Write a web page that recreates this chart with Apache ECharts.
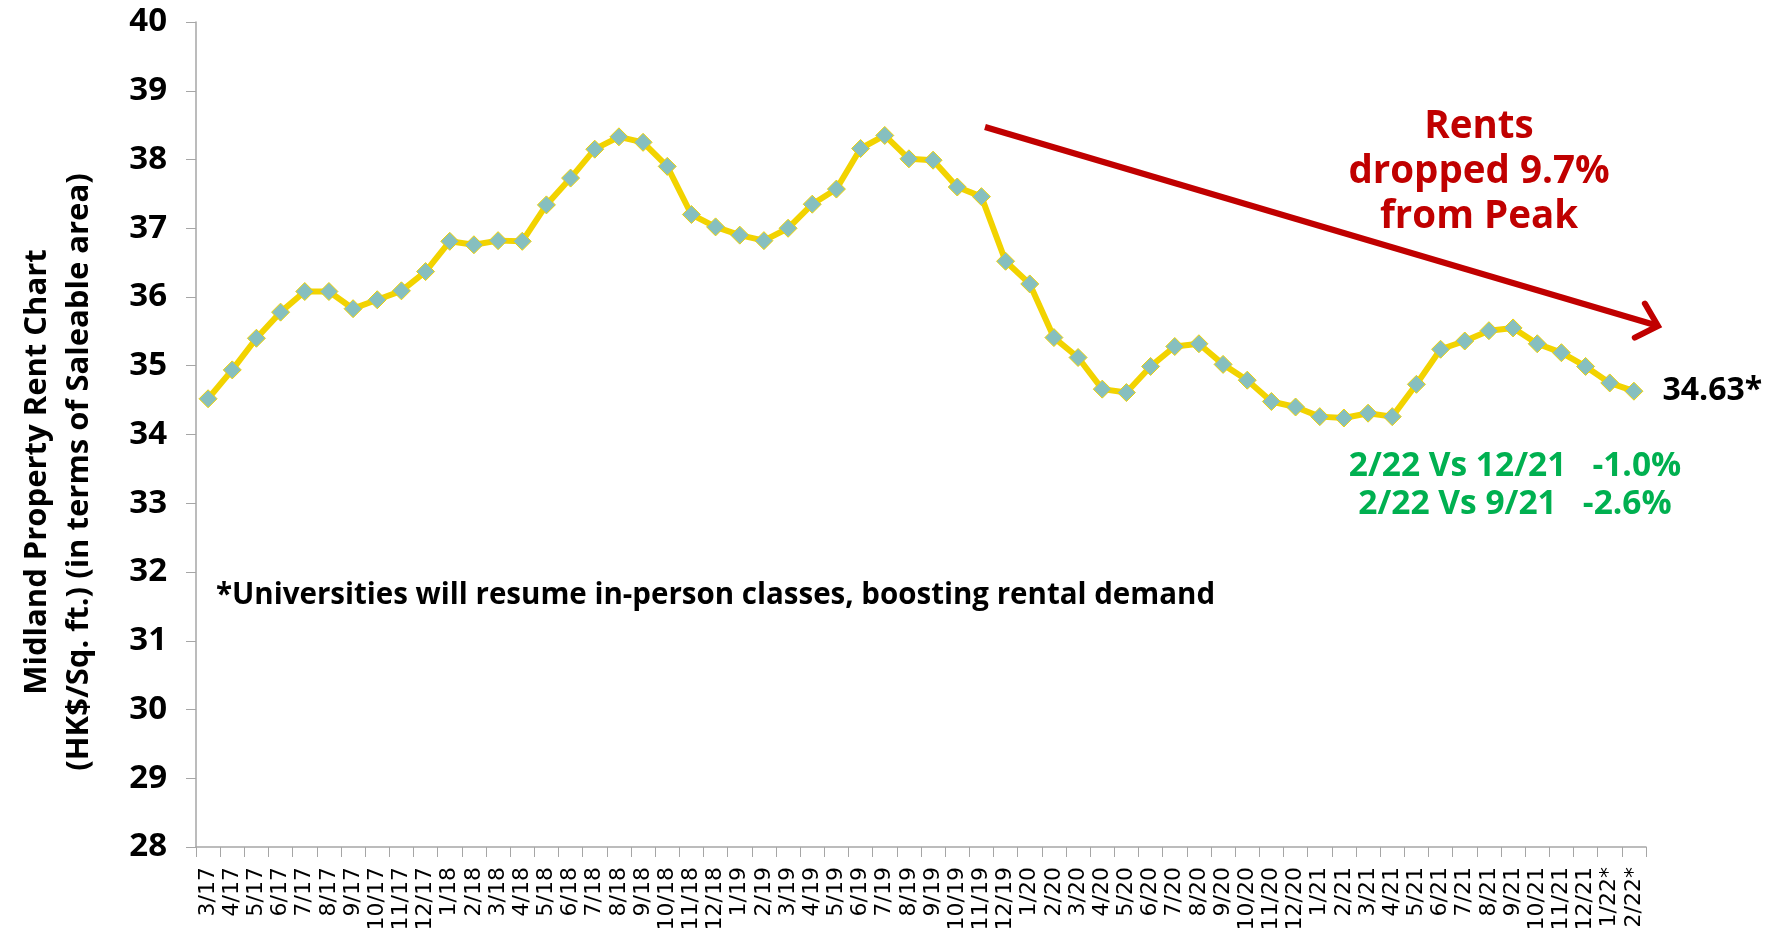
<!DOCTYPE html>
<html>
<head>
<meta charset="utf-8">
<title>Midland Property Rent Chart</title>
<script src="https://cdn.jsdelivr.net/npm/echarts@6/dist/echarts.min.js"></script>
<style>
  html, body { margin: 0; padding: 0; background: #ffffff; }
  #chart { width: 1783px; height: 949px; }
</style>
</head>
<body>
<div id="chart"></div>
<script>
// Month labels, March 2017 to February 2022 (starred months are provisional)
const months = [
  '3/17', '4/17', '5/17', '6/17', '7/17', '8/17', '9/17', '10/17', '11/17', '12/17',
  '1/18', '2/18', '3/18', '4/18', '5/18', '6/18', '7/18', '8/18', '9/18', '10/18', '11/18', '12/18',
  '1/19', '2/19', '3/19', '4/19', '5/19', '6/19', '7/19', '8/19', '9/19', '10/19', '11/19', '12/19',
  '1/20', '2/20', '3/20', '4/20', '5/20', '6/20', '7/20', '8/20', '9/20', '10/20', '11/20', '12/20',
  '1/21', '2/21', '3/21', '4/21', '5/21', '6/21', '7/21', '8/21', '9/21', '10/21', '11/21', '12/21',
  '1/22*', '2/22*'
];

// Average rent, HK$ per sq. ft. of saleable area
const rents = [
  34.52, 34.94, 35.40, 35.78, 36.08, 36.08, 35.83, 35.96, 36.09, 36.37,
  36.81, 36.76, 36.82, 36.81, 37.34, 37.73, 38.15, 38.33, 38.25, 37.90, 37.20, 37.02,
  36.90, 36.82, 37.00, 37.35, 37.57, 38.16, 38.35, 38.01, 37.99, 37.60, 37.46, 36.52,
  36.19, 35.41, 35.12, 34.66, 34.61, 34.99, 35.28, 35.32, 35.02, 34.79, 34.48, 34.40,
  34.26, 34.24, 34.31, 34.26, 34.73, 35.24, 35.36, 35.51, 35.55, 35.32, 35.19, 34.99,
  34.75, 34.63
];

// Value axis ticks
const yTicks = { min: 28, max: 40, step: 1 };

const axisGrey = '#a6a6a6';
const lineYellow = '#f2d300';
const markerTeal = '#86bfbf';
const darkRed = '#c00000';
const green = '#00b050';
const boldFont = '"Open Sans", "Noto Sans", sans-serif';

// Only the latest month carries a value label
const seriesData = rents.map((v, i) => {
  if (i !== rents.length - 1) return v;
  return {
    value: v,
    label: {
      show: true,
      position: 'right',
      distance: 19,
      formatter: p => p.value.toFixed(2) + '*',
      fontFamily: boldFont,
      fontWeight: 'bold',
      fontSize: 32,
      color: '#000'
    }
  };
});

// Downward trend arrow with an open chevron head
const arrowFrom = [985, 127];
const arrowTo = [1658, 326];
function arrowHead(from, to, len, halfAngle) {
  const ang = Math.atan2(to[1] - from[1], to[0] - from[0]);
  const a1 = ang + Math.PI - halfAngle;
  const a2 = ang + Math.PI + halfAngle;
  return [
    [to[0] + len * Math.cos(a1), to[1] + len * Math.sin(a1)],
    [to[0], to[1]],
    [to[0] + len * Math.cos(a2), to[1] + len * Math.sin(a2)]
  ];
}

const chart = echarts.init(document.getElementById('chart'), null, { renderer: 'canvas' });

chart.setOption({
  animation: false,
  backgroundColor: '#ffffff',
  grid: { left: 196, right: 137, top: 22, bottom: 102, outerBoundsMode: 'none' },
  xAxis: {
    type: 'category',
    data: months,
    boundaryGap: true,
    axisLine: { show: true, lineStyle: { color: axisGrey, width: 1.5 } },
    axisTick: { show: true, interval: 0, length: 10, lineStyle: { color: axisGrey, width: 1 } },
    axisLabel: {
      interval: 0,
      rotate: 90,
      margin: 20,
      fontSize: 22,
      fontFamily: '"DejaVu Sans", sans-serif',
      color: '#000'
    },
    splitLine: { show: false }
  },
  yAxis: {
    type: 'value',
    min: yTicks.min,
    max: yTicks.max,
    interval: yTicks.step,
    axisLine: { show: true, lineStyle: { color: axisGrey, width: 1.5 } },
    axisTick: { show: true, length: 10, lineStyle: { color: axisGrey, width: 1 } },
    axisLabel: {
      margin: 29,
      fontSize: 33,
      fontWeight: 'bold',
      fontFamily: boldFont,
      color: '#000'
    },
    splitLine: { show: false }
  },
  series: [{
    type: 'line',
    data: seriesData,
    symbol: 'diamond',
    symbolSize: 18,
    showAllSymbol: true,
    lineStyle: { color: lineYellow, width: 6 },
    itemStyle: { color: markerTeal, borderColor: lineYellow, borderWidth: 1 },
    z: 3
  }],
  graphic: [
    {
      type: 'text',
      x: 58, y: 472,
      rotation: Math.PI / 2,
      style: {
        text: 'Midland Property Rent Chart\n(HK$/Sq. ft.) (in terms of Saleable area)',
        fontFamily: boldFont,
        fontWeight: 'bold',
        fontSize: 31,
        lineHeight: 42,
        fill: '#000',
        align: 'center',
        verticalAlign: 'middle'
      }
    },
    {
      type: 'text',
      x: 216, y: 596,
      style: {
        text: '*Universities will resume in-person classes, boosting rental demand',
        fontFamily: boldFont,
        fontWeight: 'bold',
        fontSize: 29.5,
        fill: '#000',
        align: 'left',
        verticalAlign: 'middle'
      }
    },
    {
      type: 'text',
      x: 1479, y: 172,
      style: {
        text: 'Rents\ndropped 9.7%\nfrom Peak',
        fontFamily: boldFont,
        fontWeight: 'bold',
        fontSize: 38.5,
        lineHeight: 45,
        fill: darkRed,
        align: 'center',
        verticalAlign: 'middle'
      }
    },
    {
      type: 'text',
      x: 1515, y: 485,
      style: {
        text: '2/22 Vs 12/21   -1.0%\n2/22 Vs 9/21   -2.6%',
        fontFamily: boldFont,
        fontWeight: 'bold',
        fontSize: 33.5,
        lineHeight: 38,
        fill: green,
        align: 'center',
        verticalAlign: 'middle'
      }
    },
    {
      type: 'line',
      shape: { x1: arrowFrom[0], y1: arrowFrom[1], x2: arrowTo[0] - 3, y2: arrowTo[1] - 1 },
      style: { stroke: darkRed, lineWidth: 6 }
    },
    {
      type: 'polyline',
      shape: { points: arrowHead(arrowFrom, arrowTo, 26, Math.PI * 0.24) },
      style: { stroke: darkRed, lineWidth: 6, fill: null, lineCap: 'round', lineJoin: 'miter' }
    }
  ]
});
</script>
</body>
</html>
